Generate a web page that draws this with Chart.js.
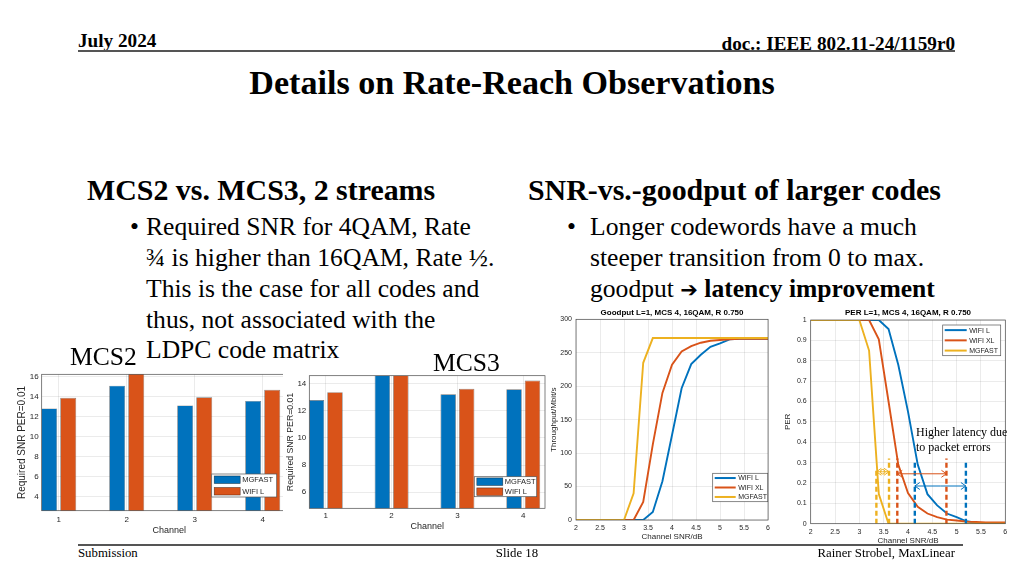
<!DOCTYPE html>
<html>
<head>
<meta charset="utf-8">
<script src="https://cdn.jsdelivr.net/npm/chart.js@4.4.1/dist/chart.umd.min.js"></script>
<style>
body { margin: 0; width: 1024px; height: 576px; background: #fff; position: relative; overflow: hidden; font-family: "Liberation Serif", "Times New Roman", serif; color: #000; }
.t { position: absolute; white-space: nowrap; line-height: 1; z-index: 10; }
.b { font-weight: bold; }
.p { font-size: 25.6px; }
canvas { position: absolute; }
.rule { position: absolute; background: #555; z-index: 11; }
.arrow { font-family: "DejaVu Sans", sans-serif; font-weight: bold; font-size: 21px; }
</style>
</head>
<body>
<div class="t b" style="left:78px; top:30.6px; font-size:19.2px;">July 2024</div>
<div class="t b" style="right:69px; top:33.9px; font-size:19.2px;">doc.: IEEE 802.11-24/1159r0</div>
<div class="rule" style="left:78px; top:50px; width:877px; height:2px;"></div>
<div class="t b" style="left:0; width:1024px; text-align:center; top:66px; font-size:34.1px;">Details on Rate-Reach Observations</div>

<div class="t b" style="left:87px; top:175px; font-size:29.9px;">MCS2 vs. MCS3, 2 streams</div>
<div class="t p" style="left:130px; top:213.8px;">•</div>
<div class="t p" style="left:146px; top:213.8px;">Required SNR for 4QAM, Rate</div>
<div class="t p" style="left:146px; top:244.7px;">¾ is higher than 16QAM, Rate ½.</div>
<div class="t p" style="left:146px; top:275.6px;">This is the case for all codes and</div>
<div class="t p" style="left:146px; top:306.5px;">thus, not associated with the</div>
<div class="t p" style="left:146px; top:337.4px;">LDPC code matrix</div>
<div class="t p" style="left:70px; top:343.8px;">MCS2</div>
<div class="t p" style="left:433px; top:349.8px;">MCS3</div>

<div class="t b" style="left:528px; top:175px; font-size:29.9px;">SNR-vs.-goodput of larger codes</div>
<div class="t p" style="left:567px; top:213.8px;">•</div>
<div class="t p" style="left:590px; top:213.8px;">Longer codewords have a much</div>
<div class="t p" style="left:590px; top:244.7px;">steeper transition from 0 to max.</div>
<div class="t p" style="left:590px; top:275.6px;">goodput <span class="arrow">➔</span> <b>latency improvement</b></div>

<div class="t" style="left:916px; top:426px; font-size:12px;">Higher latency due</div>
<div class="t" style="left:916px; top:441px; font-size:12px;">to packet errors</div>

<div class="rule" style="left:78px; top:544px; width:885px; height:2px;"></div>
<div class="t" style="left:78px; top:546.5px; font-size:12.8px;">Submission</div>
<div class="t" style="left:0; width:1034px; text-align:center; top:546.5px; font-size:12.8px;">Slide 18</div>
<div class="t" style="right:69px; top:546.5px; font-size:12.8px;">Rainer Strobel, MaxLinear</div>

<canvas id="mcs2Chart" width="290" height="175" style="left:10px; top:365px; z-index:1;"></canvas>
<canvas id="mcs3Chart" width="263" height="175" style="left:283px; top:365px; z-index:2; background:#fff;"></canvas>
<canvas id="goodputChart" width="227" height="240" style="left:547px; top:305px; z-index:3; background:#fff;"></canvas>
<canvas id="perChart" width="240" height="245" style="left:778px; top:305px; z-index:4; background:#fff;"></canvas>

<script>
// Required SNR at PER=0.01, per channel
const channels = [1, 2, 3, 4];
const mcs2Mgfast = [12.8, 15.07, 13.1, 13.55];
const mcs2WifiL = [13.85, 16.3, 13.9, 14.65];
const mcs3Mgfast = [12.78, 14.6, 13.2, 13.56];
const mcs3WifiL = [13.35, 14.6, 13.6, 14.2];
const mcs2Ticks = [4, 6, 8, 10, 12, 14, 16];
const mcs3Ticks = [6, 8, 10, 12, 14];

// SNR sweep, MCS 4 16QAM R 0.750
const snrDb = [2.0, 2.2, 2.4, 2.6, 2.8, 3.0, 3.2, 3.4, 3.6, 3.8, 4.0, 4.2, 4.4, 4.6, 4.8, 5.0, 5.2, 5.4, 5.6, 5.8, 6.0];
const goodputWifiL  = [0, 0, 0, 0, 0, 0, 0, 0, 12, 58, 127, 197, 233, 247, 259, 264, 270, 271, 271, 271, 271];
const goodputWifiXL = [0, 0, 0, 0, 0, 0, 0, 27, 113, 190, 232, 252, 260, 265, 268, 269, 270, 271, 271, 271, 271];
const goodputMgfast = [0, 0, 0, 0, 0, 0, 40, 235, 272, 272, 272, 272, 272, 272, 272, 272, 272, 272, 272, 272, 272];
const perWifiL  = [1, 1, 1, 1, 1, 1, 1, 1, 0.956, 0.78, 0.55, 0.29, 0.145, 0.09, 0.05, 0.032, 0.012, 0.005, 0.003, 0.002, 0.001];
const perWifiXL = [1, 1, 1, 1, 1, 1, 1, 0.905, 0.6, 0.29, 0.15, 0.083, 0.05, 0.032, 0.02, 0.016, 0.01, 0.008, 0.006, 0.006, 0.006];
const perMgfast = [1, 1, 1, 1, 1, 1, 0.85, 0.145, 0, 0, 0, 0, 0, 0, 0, 0, 0, 0, 0, 0, 0];
const snrTicks = [2, 2.5, 3, 3.5, 4, 4.5, 5, 5.5, 6];
const goodputTicks = [0, 50, 100, 150, 200, 250, 300];
const perTicks = [0, 0.1, 0.2, 0.3, 0.4, 0.5, 0.6, 0.7, 0.8, 0.9, 1];

// Latency markers on the PER plot (SNR at PER 0.3 and at ~0)
const mgfastMarkX = [3.35, 3.61];
const mgfastMarkTop = [0.27, 0.32];
const wifiXLMarkX = [3.78, 4.79];
const wifiXLMarkTop = [0.32, 0.32];
const wifiLMarkX = [4.14, 5.19];
const wifiLMarkTop = [0.31, 0.31];
const markArrowY = [0.255, 0.245, 0.185]; // MGFAST, WIFI XL, WIFI L

const BLUE = "#0072BD";
const ORANGE = "#D95319";
const YELLOW = "#EDB120";
const AXIS = "#262626";
const SANS = "'Liberation Sans', Arial, sans-serif";

// Box around the plot area, MATLAB style
const boxPlugin = {
    id: "box",
    afterDatasetsDraw(chart) {
        const a = chart.chartArea;
        const ctx = chart.ctx;
        ctx.save();
        ctx.strokeStyle = "#4a4a4a";
        ctx.lineWidth = 0.7;
        ctx.strokeRect(a.left, a.top, a.right - a.left, a.bottom - a.top);
        ctx.restore();
    }
};

// Title centred over the plot area
const areaTitle = {
    id: "areaTitle",
    afterDraw(chart, args, opts) {
        if (!opts.text) return;
        const a = chart.chartArea;
        const ctx = chart.ctx;
        ctx.save();
        ctx.font = "bold 8px " + SANS;
        ctx.fillStyle = "#000";
        ctx.textAlign = "center";
        ctx.textBaseline = "middle";
        ctx.fillText(opts.text, (a.left + a.right) / 2, a.top - opts.gap);
        ctx.restore();
    }
};

// Legend box inside the plot
const boxLegend = {
    id: "boxLegend",
    afterDraw(chart, args, opts) {
        if (!opts.width) return;
        const a = chart.chartArea;
        const ctx = chart.ctx;
        const x = a.left + opts.left;
        const y = a.top + opts.top;
        const items = chart.data.datasets.filter(d => !d.noLegend);
        const rowH = opts.height / items.length;
        ctx.save();
        ctx.fillStyle = "#fff";
        ctx.fillRect(x, y, opts.width, opts.height);
        ctx.strokeStyle = "#555";
        ctx.lineWidth = 0.7;
        ctx.strokeRect(x, y, opts.width, opts.height);
        ctx.font = opts.fontSize + "px " + SANS;
        ctx.textBaseline = "middle";
        items.forEach((d, i) => {
            const cy = y + rowH * (i + 0.5);
            if (opts.kind === "bar") {
                ctx.fillStyle = d.backgroundColor;
                ctx.fillRect(x + 2.5, cy - 3.8, opts.swatch, 7.6);
                ctx.strokeStyle = "rgba(0,0,0,0.6)";
                ctx.lineWidth = 0.6;
                ctx.strokeRect(x + 2.5, cy - 3.8, opts.swatch, 7.6);
            } else {
                ctx.strokeStyle = d.borderColor;
                ctx.lineWidth = 2;
                ctx.beginPath();
                ctx.moveTo(x + 2, cy);
                ctx.lineTo(x + 2 + opts.swatch, cy);
                ctx.stroke();
            }
            ctx.fillStyle = AXIS;
            ctx.fillText(d.label, x + 4.5 + opts.swatch, cy + 0.5);
        });
        ctx.restore();
    }
};

// Open arrow heads on both ends of marker arrows
const arrowHeads = {
    id: "arrowHeads",
    afterDatasetsDraw(chart) {
        const ctx = chart.ctx;
        chart.data.datasets.forEach((d, i) => {
            if (!d.arrow) return;
            const pts = chart.getDatasetMeta(i).data;
            const p0 = pts[0];
            const p1 = pts[pts.length - 1];
            ctx.save();
            ctx.strokeStyle = d.borderColor;
            ctx.lineWidth = 1;
            ctx.beginPath();
            ctx.moveTo(p0.x + 5, p0.y - 3.5);
            ctx.lineTo(p0.x, p0.y);
            ctx.lineTo(p0.x + 5, p0.y + 3.5);
            ctx.moveTo(p1.x - 5, p1.y - 3.5);
            ctx.lineTo(p1.x, p1.y);
            ctx.lineTo(p1.x - 5, p1.y + 3.5);
            ctx.stroke();
            ctx.restore();
        });
    }
};

// Fix the plot area to a given rectangle inside the canvas
function fixedArea(canvasId, area) {
    const c = document.getElementById(canvasId);
    const left = parseFloat(c.style.left);
    const top = parseFloat(c.style.top);
    return {
        padding: { left: 0, top: area.top - top, right: left + c.width - area.right, bottom: 0 },
        yWidth: area.left - left,
        xHeight: top + c.height - area.bottom
    };
}

function makeScales(fit, cfg) {
    return {
        x: {
            type: "linear",
            offset: false,
            min: cfg.xMin,
            max: cfg.xMax,
            afterBuildTicks: s => { s.ticks = cfg.xTicks.map(v => ({ value: v })); },
            afterFit: s => { s.height = fit.xHeight; },
            grid: { color: "rgba(0,0,0,0.08)", drawTicks: false, offset: false },
            border: { display: false },
            ticks: { padding: cfg.xTickPad, color: AXIS, font: { family: SANS, size: cfg.tickSize }, callback: v => String(v), maxRotation: 0, autoSkip: false },
            title: { display: true, text: cfg.xTitle, color: AXIS, font: { family: SANS, size: cfg.titleSize }, padding: { top: 0, bottom: cfg.xTitlePad } }
        },
        y: {
            min: cfg.yMin,
            max: cfg.yMax,
            afterBuildTicks: s => { s.ticks = cfg.yTicks.map(v => ({ value: v })); },
            afterFit: s => { s.width = fit.yWidth; },
            grid: { color: "rgba(0,0,0,0.08)", drawTicks: false },
            border: { display: false },
            ticks: { padding: cfg.yTickPad, color: AXIS, font: { family: SANS, size: cfg.tickSize }, callback: v => String(v), autoSkip: false },
            title: { display: true, text: cfg.yTitle, color: AXIS, font: { family: SANS, size: cfg.yTitleSize || cfg.titleSize }, padding: { top: cfg.yTitlePad, bottom: 0 } }
        }
    };
}

function barChart(canvasId, area, mgfast, wifiL, cfg, legend) {
    const fit = fixedArea(canvasId, area);
    return new Chart(document.getElementById(canvasId), {
        type: "bar",
        data: {
            datasets: [
                { label: "MGFAST", data: channels.map((c, i) => ({ x: c, y: mgfast[i] })), backgroundColor: BLUE, borderColor: "rgba(0,0,0,0.55)", borderWidth: 0.7 },
                { label: "WIFI L", data: channels.map((c, i) => ({ x: c, y: wifiL[i] })), backgroundColor: ORANGE, borderColor: "rgba(0,0,0,0.55)", borderWidth: 0.7 }
            ]
        },
        options: {
            responsive: false,
            animation: false,
            devicePixelRatio: 1,
            categoryPercentage: 0.56,
            barPercentage: 0.84,
            layout: { padding: fit.padding },
            plugins: { legend: { display: false }, tooltip: { enabled: false }, boxLegend: legend },
            scales: makeScales(fit, cfg)
        },
        plugins: [boxPlugin, boxLegend]
    });
}

function lineSet(label, values, color, order) {
    return {
        label: label,
        data: snrDb.map((x, i) => ({ x: x, y: values[i] })),
        borderColor: color,
        backgroundColor: color,
        borderWidth: 1.9,
        pointRadius: 0,
        order: order
    };
}

function markSets(xs, tops, arrowY, color, withDot) {
    const sets = xs.map((x, i) => ({
        data: [{ x: x, y: 0 }, { x: x, y: tops[i] }],
        borderColor: color, borderWidth: 2.4, borderDash: [5, 3],
        pointRadius: 0, noLegend: true, order: 0
    }));
    const mid = (xs[0] + xs[1]) / 2;
    sets.push({
        data: [{ x: xs[0], y: arrowY }, { x: mid, y: arrowY }, { x: xs[1], y: arrowY }],
        borderColor: color, backgroundColor: "rgba(0,0,0,0)", borderWidth: 1,
        pointRadius: withDot ? [0, 2.3, 0] : 0, pointBorderColor: color, pointBorderWidth: 1,
        noLegend: true, arrow: true, order: 0
    });
    return sets;
}

function lineChart(canvasId, area, datasets, cfg, title, legend) {
    const fit = fixedArea(canvasId, area);
    return new Chart(document.getElementById(canvasId), {
        type: "line",
        data: { datasets: datasets },
        options: {
            responsive: false,
            animation: false,
            devicePixelRatio: 1,
            layout: { padding: fit.padding },
            plugins: { legend: { display: false }, tooltip: { enabled: false }, areaTitle: title, boxLegend: legend },
            scales: makeScales(fit, cfg)
        },
        plugins: [boxPlugin, areaTitle, boxLegend, arrowHeads]
    });
}

// MCS2
barChart("mcs2Chart", { left: 41.7, top: 374.3, right: 296.7, bottom: 510.7 }, mcs2Mgfast, mcs2WifiL, {
    xMin: 0.75, xMax: 4.5, xTicks: channels, yMin: 2.6, yMax: 16.2, yTicks: mcs2Ticks,
    xTitle: "Channel", yTitle: "Required SNR PER=0.01", tickSize: 8, titleSize: 9, yTitleSize: 10,
    xTickPad: 4, xTitlePad: 4, yTickPad: 3, yTitlePad: 6.5
}, { left: 170, top: 99.7, width: 65, height: 23, kind: "bar", swatch: 26, fontSize: 7.5 });

// MCS3
barChart("mcs3Chart", { left: 309.3, top: 375.7, right: 545, bottom: 508.3 }, mcs3Mgfast, mcs3WifiL, {
    xMin: 0.75, xMax: 4.33, xTicks: channels, yMin: 4.82, yMax: 14.56, yTicks: mcs3Ticks,
    xTitle: "Channel", yTitle: "Required SNR PER=0.01", tickSize: 8, titleSize: 9, yTitleSize: 8.7,
    xTickPad: 3, xTitlePad: 8, yTickPad: 3, yTitlePad: 2.5
}, { left: 165, top: 101, width: 62.4, height: 20, kind: "bar", swatch: 26, fontSize: 7.5 });

// Goodput
lineChart("goodputChart", { left: 576, top: 319.3, right: 769, bottom: 520 }, [
    lineSet("WIFI L", goodputWifiL, BLUE, 3),
    lineSet("WIFI XL", goodputWifiXL, ORANGE, 2),
    lineSet("MGFAST", goodputMgfast, YELLOW, 1)
], {
    xMin: 2, xMax: 6, xTicks: snrTicks, yMin: 0, yMax: 300, yTicks: goodputTicks,
    xTitle: "Channel SNR/dB", yTitle: "Throughput/Mbit/s", tickSize: 7, titleSize: 8,
    xTickPad: 4, xTitlePad: 3, yTickPad: 4, yTitlePad: 1.5
}, { text: "Goodput L=1, MCS 4, 16QAM, R 0.750", gap: 7 },
   { left: 136.7, top: 154, width: 55, height: 28.4, kind: "line", swatch: 21, fontSize: 7 });

// PER
lineChart("perChart", { left: 810.7, top: 320, right: 1005.3, bottom: 523.7 }, [
    lineSet("WIFI L", perWifiL, BLUE, 3),
    lineSet("WIFI XL", perWifiXL, ORANGE, 2),
    lineSet("MGFAST", perMgfast, YELLOW, 1),
    ...markSets(mgfastMarkX, mgfastMarkTop, markArrowY[0], YELLOW, true),
    ...markSets(wifiXLMarkX, wifiXLMarkTop, markArrowY[1], ORANGE, false),
    ...markSets(wifiLMarkX, wifiLMarkTop, markArrowY[2], BLUE, false)
], {
    xMin: 2, xMax: 6, xTicks: snrTicks, yMin: 0, yMax: 1, yTicks: perTicks,
    xTitle: "Channel SNR/dB", yTitle: "PER", tickSize: 7, titleSize: 8,
    xTickPad: 4, xTitlePad: 4, yTickPad: 4, yTitlePad: 5
}, { text: "PER L=1, MCS 4, 16QAM, R 0.750", gap: 7.7 },
   { left: 132, top: 5, width: 58, height: 30.7, kind: "line", swatch: 22, fontSize: 7 });
</script>
</body>
</html>
